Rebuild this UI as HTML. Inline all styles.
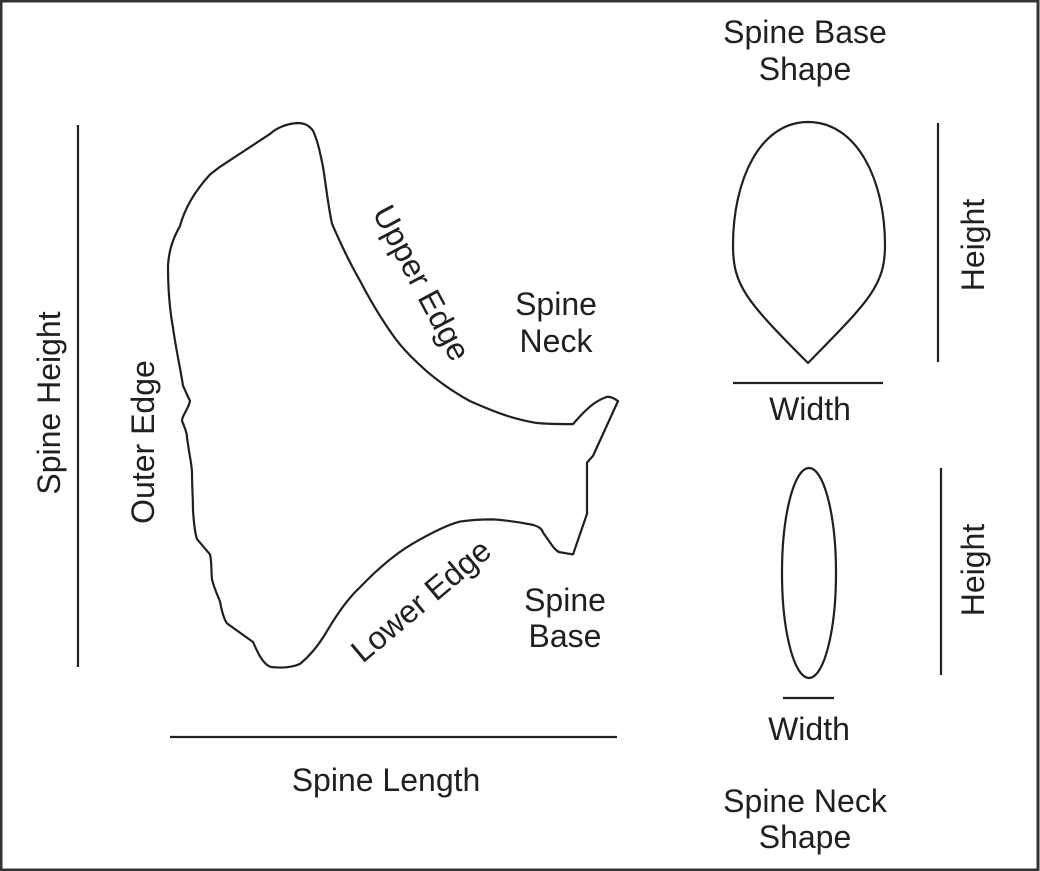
<!DOCTYPE html>
<html><head><style>
html,body{margin:0;padding:0;background:#fff}
svg{display:block}
text{font-family:"Liberation Sans",Arial,sans-serif;font-size:32px;fill:#231f20}
</style></head><body>
<svg width="1040" height="871" viewBox="0 0 1040 871">
<rect x="1" y="1" width="1037" height="869" fill="#fff" stroke="#333" stroke-width="3"/>
<g stroke="#231f20" stroke-width="2.2" fill="none" stroke-linejoin="round">
<path vector-effect="non-scaling-stroke" transform="translate(0,123) scale(1,1.095) translate(0,-123)" d="M297,123 C285,124 276,128 270,133 L220,163 L210,170 C195,185 185,200 180,217 C172,230 169,240 168,253 C168,275 170,295 173,310 C176,330 180,345 183,363 L190,377 C188,385 182,390 182,395 C184,400 187,405 187,410 C189,425 192,435 192,443 C192,455 193,465 193,477 C194,490 195,498 197,503 L210,517 C212,525 211,532 212,540 C215,550 218,555 220,560 C222,570 224,576 227,580 L253,597 C256,603 258,607 260,610 C264,616 268,620 273,620 C285,621 293,620 300,617 C312,608 320,598 327,587 C338,570 348,557 360,547 C380,528 398,515 413,507 C430,498 447,490 460,487 C475,485 485,485 493,485 C510,486 522,488 533,490 C540,492 542,494 543,497 L553,510 C556,513 558,515 560,515 L573,517 L587,480 L587,433 L593,427 L618,377 C614,374 610,373 607,373 C598,376 590,380 573,398 C560,398 548,398 537,397 C510,393 490,385 470,377 C452,368 440,360 427,350 C415,340 403,330 393,317 C380,300 370,285 360,267 C348,248 340,232 332,215 C328,198 326,180 323,163 C320,150 318,140 313,130 C308,124 303,123 297,123 Z"/>
<line x1="78" y1="125" x2="78" y2="667"/>
<line x1="170" y1="737" x2="617" y2="737"/>
<path d="M808,122 C760,122 733,180 733,245 C733,285 745,300 808,363 C870,300 885,285 885,245 C885,180 857,122 808,122 Z"/>
<line x1="733" y1="383" x2="883" y2="383"/>
<line x1="938" y1="123" x2="938" y2="362"/>
<ellipse cx="809" cy="573" rx="27" ry="105"/>
<line x1="783" y1="698" x2="834" y2="698"/>
<line x1="941" y1="468" x2="941" y2="675"/>
</g>
<g text-anchor="middle">
<text x="805" y="43">Spine Base</text>
<text x="805" y="80">Shape</text>
<text x="810" y="420">Width</text>
<text x="809" y="740">Width</text>
<text x="805" y="812">Spine Neck</text>
<text x="805" y="848">Shape</text>
<text x="386" y="791">Spine Length</text>
<text x="556" y="315">Spine</text>
<text x="556" y="352">Neck</text>
<text x="565" y="611">Spine</text>
<text x="565" y="647">Base</text>
<text transform="translate(984,245) rotate(-90)">Height</text>
<text transform="translate(984,570) rotate(-90)">Height</text>
<text transform="translate(60,403) rotate(-90)">Spine Height</text>
<text transform="translate(154,442) rotate(-90)">Outer Edge</text>
<text transform="translate(412,288) rotate(62)">Upper Edge</text>
<text transform="translate(428,609) rotate(-40)">Lower Edge</text>
</g>
</svg>
</body></html>
